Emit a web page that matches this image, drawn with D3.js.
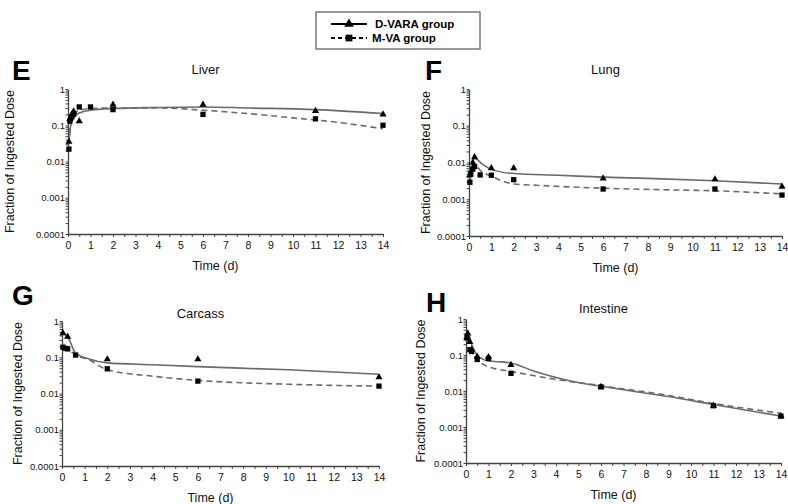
<!DOCTYPE html>
<html>
<head>
<meta charset="utf-8">
<script src="https://cdn.jsdelivr.net/npm/d3@7"></script>
<style>
  body { margin: 0; background: #fff; }
  svg { font-family: "Liberation Sans", Arial, sans-serif; }
</style>
</head>
<body>
<svg id="chart" width="788" height="504"></svg>
<script>
// panel names and letters
var organs = ["Liver", "Lung", "Carcass", "Intestine"];
var letters = ["E", "F", "G", "H"];
var seriesNames = ["D-VARA group", "M-VA group"];
var yTickLabels = ["0.0001", "0.001", "0.01", "0.1", "1"];
var xTicks = [0, 1, 2, 3, 4, 5, 6, 7, 8, 9, 10, 11, 12, 13, 14];

var liverDV = [[0.04,0.035],[0.08,0.15],[0.17,0.2],[0.25,0.24],[0.5,0.13],[2,0.37],[6,0.37],[11,0.25],[14,0.2]];
var liverMV = [[0.04,0.022],[0.08,0.13],[0.17,0.17],[0.25,0.2],[0.5,0.32],[1,0.32],[2,0.27],[6,0.2],[11,0.15],[14,0.1]];
var lungDV = [[0.04,0.0046],[0.17,0.01],[0.25,0.014],[1,0.007],[2,0.007],[6,0.0037],[11,0.0035],[14,0.0022]];
var lungMV = [[0.04,0.0029],[0.08,0.005],[0.17,0.0066],[0.25,0.0078],[0.5,0.0046],[1,0.0045],[2,0.0034],[6,0.0019],[11,0.0019],[14,0.0013]];
var carcDV = [[0.04,0.46],[0.25,0.37],[2,0.088],[6,0.088],[14,0.028]];
var carcMV = [[0.04,0.19],[0.17,0.175],[0.25,0.17],[0.6,0.115],[2,0.048],[6,0.022],[14,0.016]];
var intDV = [[0.04,0.29],[0.08,0.4],[0.17,0.23],[0.25,0.14],[0.5,0.09],[1,0.088],[2,0.053],[6,0.013],[11,0.0039],[14,0.002]];
var intMV = [[0.04,0.31],[0.17,0.14],[0.25,0.125],[0.5,0.075],[1,0.08],[2,0.031],[6,0.013],[11,0.0039],[14,0.002]];

// model curves
var liverDVfit = [[0.04,0.03],[0.1,0.08],[0.2,0.14],[0.35,0.19],[0.6,0.23],[1,0.26],[2,0.29],[4,0.31],[6,0.32],[8,0.3],[11,0.27],[14,0.21]];
var liverMVfit = [[0.04,0.03],[0.1,0.1],[0.2,0.18],[0.35,0.23],[0.6,0.27],[1,0.29],[2,0.3],[4,0.3],[6,0.26],[8,0.21],[10,0.16],[12,0.12],[14,0.08]];
var lungDVfit = [[0.04,0.005],[0.25,0.013],[0.6,0.009],[1,0.0065],[2,0.005],[4,0.0045],[6,0.004],[8,0.0037],[11,0.0032],[14,0.0026]];
var lungMVfit = [[0.04,0.003],[0.25,0.008],[0.6,0.0055],[1,0.0042],[2,0.0026],[3,0.0024],[6,0.002],[9,0.0018],[11,0.0017],[14,0.0014]];
var carcDVfit = [[0.04,0.46],[0.25,0.37],[0.6,0.13],[1.2,0.09],[2,0.07],[4,0.062],[6,0.055],[10,0.045],[14,0.034]];
var carcMVfit = [[0.04,0.19],[0.25,0.17],[0.6,0.115],[1.2,0.085],[2,0.045],[4,0.03],[6,0.023],[10,0.018],[14,0.016]];
var intDVfit = [[0.04,0.3],[0.1,0.4],[0.25,0.2],[0.5,0.1],[1,0.068],[1.5,0.065],[2,0.06],[3,0.036],[4.5,0.02],[6,0.0135],[9,0.007],[11,0.0042],[14,0.002]];
var intMVfit = [[0.04,0.3],[0.25,0.13],[0.6,0.065],[1,0.047],[2,0.035],[4,0.021],[6,0.014],[9,0.0075],[11,0.0045],[14,0.0024]];

var svg = d3.select("#chart");

// plot rectangles for the four panels
var boxes = [
  {l: 68,  r: 383, t: 89,  b: 234, ylab: 10,  lx: 12,  ly: 80},
  {l: 469, r: 782, t: 89,  b: 236, ylab: 426, lx: 425, ly: 80},
  {l: 62,  r: 379, t: 321, b: 466, ylab: 18,  lx: 12,  ly: 305},
  {l: 466, r: 781, t: 319, b: 463, ylab: 421, lx: 426, ly: 312}
];
var titleY = [74, 74, 318, 313];
var points = [[liverDV, liverMV], [lungDV, lungMV], [carcDV, carcMV], [intDV, intMV]];
var fits = [[liverDVfit, liverMVfit], [lungDVfit, lungMVfit], [carcDVfit, carcMVfit], [intDVfit, intMVfit]];

// minor log ticks
var yMinor = [];
for (var e = -4; e <= 0; e++)
  for (var m = 1; m <= 9; m++) {
    var v = m * Math.pow(10, e);
    if (v <= 1.0000001) yMinor.push(v);
  }

function plotPanel(i) {
  var bx = boxes[i];
  var x = d3.scaleLinear().domain([0, 14]).range([bx.l, bx.r]);
  var y = d3.scaleLog().domain([0.0001, 1]).range([bx.b, bx.t]);
  var g = svg.append("g");

  // x axis: ticks every half day, labels on whole days
  var xa = g.append("g").attr("transform", "translate(0," + bx.b + ")")
    .call(d3.axisBottom(x).tickValues(d3.range(0, 14.01, 0.5)).tickSize(3).tickSizeOuter(0)
      .tickFormat(function(d) { return xTicks.indexOf(d) >= 0 ? d : ""; }));
  xa.selectAll("text").attr("font-size", 10.5).attr("dy", "0.85em").attr("fill", "#111");

  var ya = g.append("g").attr("transform", "translate(" + bx.l + ",0)")
    .call(d3.axisLeft(y).tickValues(yMinor).tickSize(2.5).tickSizeOuter(0)
      .tickFormat(function(d) {
        var k = Math.round(Math.log10(d));
        return Math.abs(d - Math.pow(10, k)) < 1e-9 ? yTickLabels[k + 4] : "";
      }));
  ya.selectAll("text").attr("font-size", 9.5).attr("fill", "#111").attr("x", -3);
  g.selectAll(".domain").attr("stroke", "#444").attr("stroke-width", 1.3);
  g.selectAll(".tick line").attr("stroke", "#444");

  // curves
  var line = d3.line().x(function(d) { return x(d[0]); }).y(function(d) { return y(d[1]); })
    .curve(d3.curveMonotoneX);
  g.append("path").datum(fits[i][0]).attr("d", line)
    .attr("fill", "none").attr("stroke", "#6a6a6a").attr("stroke-width", 1.6);
  g.append("path").datum(fits[i][1]).attr("d", line)
    .attr("fill", "none").attr("stroke", "#6a6a6a").attr("stroke-width", 1.6).attr("stroke-dasharray", "6,4");

  // markers
  g.selectAll(".tri").data(points[i][0]).enter().append("path")
    .attr("d", d3.symbol().type(d3.symbolTriangle).size(22))
    .attr("transform", function(d) { return "translate(" + x(d[0]) + "," + y(d[1]) + ")"; })
    .attr("fill", "#000");
  g.selectAll(".sq").data(points[i][1]).enter().append("path")
    .attr("d", d3.symbol().type(d3.symbolSquare).size(28))
    .attr("transform", function(d) { return "translate(" + x(d[0]) + "," + y(d[1]) + ")"; })
    .attr("fill", "#000");

  // texts
  g.append("text").attr("x", (bx.l + bx.r) / 2 - 20).attr("y", titleY[i])
    .attr("text-anchor", "middle").attr("font-size", 13).attr("fill", "#111").text(organs[i]);
  g.append("text").attr("x", bx.lx).attr("y", bx.ly)
    .attr("font-size", 28).attr("font-weight", "bold").text(letters[i]);
  g.append("text").attr("x", (bx.l + bx.r) / 2 - 10).attr("y", bx.b + 36)
    .attr("text-anchor", "middle").attr("font-size", 12.5).attr("fill", "#111").text("Time (d)");
  g.append("text")
    .attr("transform", "translate(" + (bx.ylab + 4) + "," + ((bx.t + bx.b) / 2) + ") rotate(-90)")
    .attr("text-anchor", "middle").attr("font-size", 12.5).attr("fill", "#111")
    .text("Fraction of Ingested Dose");
}

for (var p = 0; p < 4; p++) plotPanel(p);

// legend
var lg = svg.append("g");
lg.append("rect").attr("x", 316).attr("y", 12).attr("width", 164).attr("height", 37)
  .attr("fill", "#fff").attr("stroke", "#777").attr("stroke-width", 1.5);
lg.append("line").attr("x1", 331).attr("x2", 367).attr("y1", 24).attr("y2", 24)
  .attr("stroke", "#000").attr("stroke-width", 2);
lg.append("path").attr("d", d3.symbol().type(d3.symbolTriangle).size(40))
  .attr("transform", "translate(349,24)");
lg.append("line").attr("x1", 331).attr("x2", 367).attr("y1", 38).attr("y2", 38)
  .attr("stroke", "#000").attr("stroke-width", 2).attr("stroke-dasharray", "4,3");
lg.append("path").attr("d", d3.symbol().type(d3.symbolSquare).size(45))
  .attr("transform", "translate(349,38)");
lg.selectAll(".lt").data(seriesNames).enter().append("text")
  .attr("x", function(d, i) { return i == 0 ? 375 : 372; })
  .attr("y", function(d, i) { return 28 + i * 14; })
  .attr("font-size", 11.5).attr("font-weight", "bold").text(function(d) { return d; });
</script>
</body>
</html>
